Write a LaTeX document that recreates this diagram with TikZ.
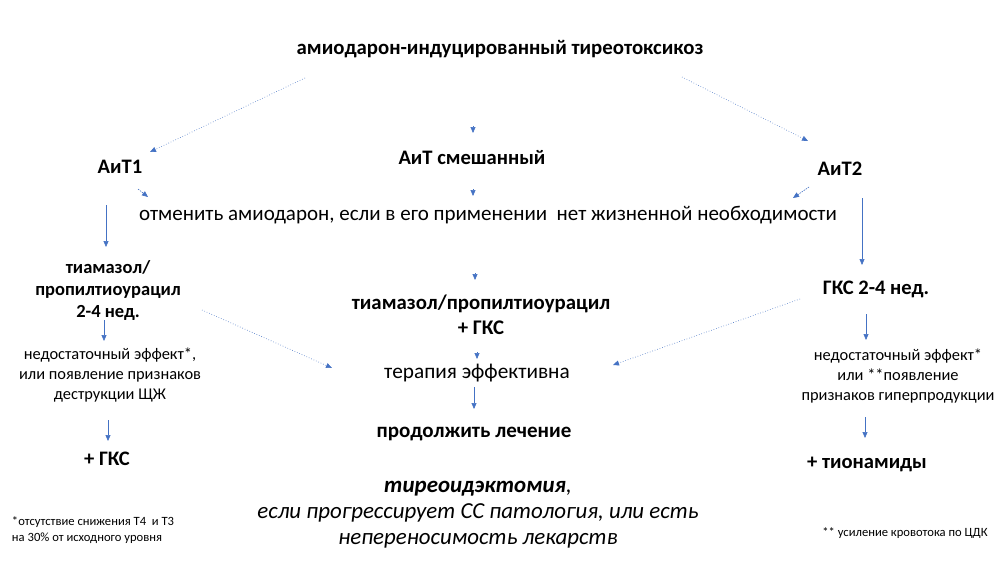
\documentclass[tikz,border=0pt]{standalone}
\usepackage{fontspec}
\setmainfont{Carlito}
\usetikzlibrary{arrows.meta}
\definecolor{arrblue}{HTML}{4472C4}
\begin{document}
\begin{tikzpicture}[x=1pt,y=-1pt,
  every node/.style={inner sep=0pt, outer sep=0pt, align=center, text=black},
  ttl/.style={font=\fontsize{20.8}{24}\selectfont\bfseries},
  hdr/.style={font=\fontsize{20.6}{24}\selectfont\bfseries},
  mainline/.style={font=\fontsize{21}{24}\selectfont},
  bblock/.style={font=\fontsize{18.5}{22}\selectfont\bfseries},
  cblock/.style={font=\fontsize{20.8}{25}\selectfont\bfseries},
  sblock/.style={font=\fontsize{16.4}{20}\selectfont},
  mtext/.style={font=\fontsize{21.3}{24}\selectfont},
  ctext/.style={font=\fontsize{21}{24}\selectfont\bfseries},
  itblock/.style={font=\fontsize{22.9}{26}\selectfont\itshape},
  fnote/.style={font=\fontsize{12.6}{16}\selectfont, align=left},
  arr/.style={draw=arrblue, line width=0.6pt, -{Triangle[length=6pt,width=5pt]}},
  dotarr/.style={arr, dotted},
  dasharr/.style={arr, dash pattern=on 1.5pt off 1pt},
]
\useasboundingbox[fill=white] (0,0) rectangle (1004,565);

% texts
\node[ttl] (title) at (500,49) {амиодарон-индуцированный тиреотоксикоз};
\node[hdr] (ait1) at (120,167) {АиТ1};
\node[hdr] (aitm) at (472,158) {АиТ смешанный};
\node[hdr] (ait2) at (840,169) {АиТ2};
\node[mainline] (cancel) at (488,215) {отменить амиодарон, если в его применении\ \ нет жизненной необходимости};

\node[bblock] (thL) at (108,290) {тиамазол/\\пропилтиоурацил\\2-4 нед.};
\node[sblock] (insL) at (110,375) {недостаточный эффект*,\\или появление признаков\\деструкции ЩЖ};
\node[hdr] (gksL) at (107,459) {+ ГКС};
\node[fnote, anchor=west] (fnL) at (12,530) {*отсутствие снижения Т4\ \ и Т3\\на 30\% от исходного уровня};

\node[cblock] (thC) at (481,315) {тиамазол/пропилтиоурацил\\+ ГКС};
\node[mtext] (eff) at (477,373) {терапия эффективна};
\node[ctext] (cont) at (474,434) {продолжить лечение};
\node[itblock] (surg) at (478,515) {\textbf{тиреоидэктомия},\\если прогрессирует СС патология, или есть\\непереносимость лекарств};

\node[hdr] (gksR) at (876,289) {ГКС 2-4 нед.};
\node[sblock] (insR) at (898,376) {недостаточный эффект*\\или **появление\\признаков гиперпродукции};
\node[hdr] (thio) at (867,464) {+ тионамиды};
\node[font=\fontsize{12.6}{16}\selectfont] (fnR) at (905,533) {** усиление кровотока по ЦДК};

% connector end points
\coordinate (a1s) at (305,78);   \coordinate (a1e) at (150,152);
\coordinate (a2s) at (682,77);   \coordinate (a2e) at (808,141);
\coordinate (a3s) at (473,126);  \coordinate (a3e) at (473,133);
\coordinate (a4s) at (138,189);  \coordinate (a4e) at (148,197);
\coordinate (a5s) at (473,189);  \coordinate (a5e) at (473,196);
\coordinate (a6s) at (809,187);  \coordinate (a6e) at (793,198);
\coordinate (a7s) at (106,205);  \coordinate (a7e) at (106,247);
\coordinate (a8s) at (862,198);  \coordinate (a8e) at (862,265);
\coordinate (a9s) at (104,320);  \coordinate (a9e) at (104,341);
\coordinate (a10s) at (108,420); \coordinate (a10e) at (108,441);
\coordinate (a11s) at (202,310); \coordinate (a11e) at (332,368);
\coordinate (a12s) at (475,273); \coordinate (a12e) at (475,280);
\coordinate (a13s) at (477,352); \coordinate (a13e) at (477,359);
\coordinate (a14s) at (474,387); \coordinate (a14e) at (474,409);
\coordinate (a15s) at (800,299); \coordinate (a15e) at (613,365);
\coordinate (a16s) at (866,314); \coordinate (a16e) at (866,340);
\coordinate (a17s) at (865,417); \coordinate (a17e) at (865,438);

\draw[dotarr] (a1s) -- (a1e);
\draw[dotarr] (a2s) -- (a2e);
\draw[arr] (a3s) -- (a3e);
\draw[dasharr] (a4s) -- (a4e);
\draw[arr] (a5s) -- (a5e);
\draw[dasharr] (a6s) -- (a6e);
\draw[arr] (a7s) -- (a7e);
\draw[arr] (a8s) -- (a8e);
\draw[arr] (a9s) -- (a9e);
\draw[arr] (a10s) -- (a10e);
\draw[dotarr] (a11s) -- (a11e);
\draw[arr] (a12s) -- (a12e);
\draw[arr] (a13s) -- (a13e);
\draw[arr] (a14s) -- (a14e);
\draw[dotarr] (a15s) -- (a15e);
\draw[arr] (a16s) -- (a16e);
\draw[arr] (a17s) -- (a17e);
\end{tikzpicture}
\end{document}
